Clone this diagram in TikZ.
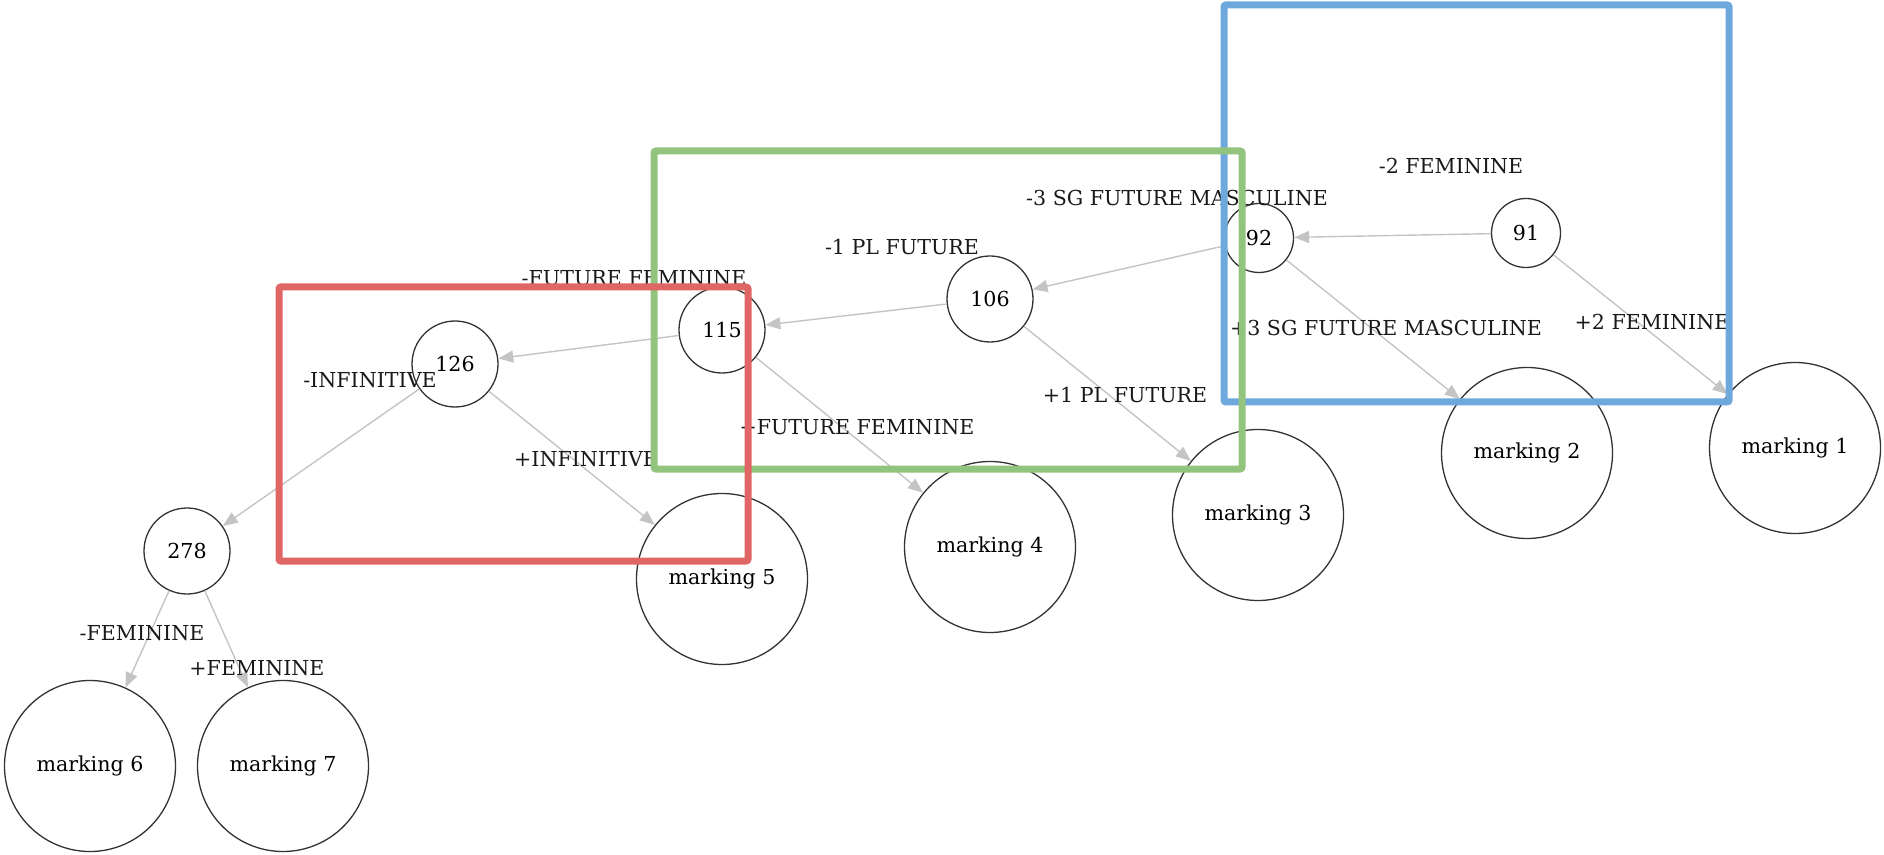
\documentclass[tikz,border=0pt]{standalone}
\usepackage{fontspec}
\setmainfont{DejaVu Serif}
\usetikzlibrary{arrows.meta}
\definecolor{boxblue}{HTML}{6FA8DC}
\definecolor{boxgreen}{HTML}{93C47D}
\definecolor{boxred}{HTML}{E06666}
\definecolor{edgegray}{HTML}{C4C4C4}

\begin{document}
\begin{tikzpicture}[x=0.5pt,y=-0.5pt,
  state/.style={circle,draw=black!80,line width=0.65pt,inner sep=0pt,
    minimum size=43pt,font=\fontsize{10.3}{12}\selectfont},
  smallstate/.style={state,minimum size=34.5pt},
  leaf/.style={state,minimum size=85.5pt},
  lab/.style={font=\fontsize{10.3}{12}\selectfont,text=black!90,inner sep=0pt},
  trans/.style={draw=edgegray,line width=0.7pt,-{Triangle[length=7.5pt,width=6pt]}},
  hl/.style={line width=3.5pt,rounded corners=1pt}]
  \useasboundingbox (0,0) rectangle (1884,855);

  \node[smallstate] (n91) at (1526,233) {91};
  \node[smallstate] (n92) at (1259,238) {92};
  \node[state] (n106) at (990,299) {106};
  \node[state] (n115) at (722,330) {115};
  \node[state] (n126) at (455,364) {126};
  \node[state] (n278) at (187,551) {278};
  \foreach \i/\xm/\ym in {1/1795/448, 2/1527/453, 3/1258/515, 4/990/547,
                          5/722/579, 6/90/766, 7/283/766}{
    \node[leaf] (m\i) at (\xm,\ym) {marking \i};
  }

  \draw[trans] (n91) -- (n92);
  \draw[trans] (n91) -- (m1);
  \draw[trans] (n92) -- (n106);
  \draw[trans] (n92) -- (m2);
  \draw[trans] (n106) -- (n115);
  \draw[trans] (n106) -- (m3);
  \draw[trans] (n115) -- (n126);
  \draw[trans] (n115) -- (m4);
  \draw[trans] (n126) -- (n278);
  \draw[trans] (n126) -- (m5);
  \draw[trans] (n278) -- (m6);
  \draw[trans] (n278) -- (m7);

  \node[lab] (l91a) at (1451,166) {-2 FEMININE};
  \node[lab] (l91b) at (1652,322) {+2 FEMININE};
  \node[lab] (l92a) at (1177,198) {-3 SG FUTURE MASCULINE};
  \node[lab] (l92b) at (1386,328) {+3 SG FUTURE MASCULINE};
  \node[lab] (l106a) at (902,247) {-1 PL FUTURE};
  \node[lab] (l106b) at (1125,395) {+1 PL FUTURE};
  \node[lab] (l115a) at (634,278) {-FUTURE FEMININE};
  \node[lab] (l115b) at (857,427) {+FUTURE FEMININE};
  \node[lab] (l126a) at (370,380) {-INFINITIVE};
  \node[lab] (l126b) at (586,459) {+INFINITIVE};
  \node[lab] (l278a) at (142,633) {-FEMININE};
  \node[lab] (l278b) at (257,668) {+FEMININE};

  \draw[hl,boxblue] (1224,5) rectangle (1729,402);
  \draw[hl,boxgreen] (654,151) rectangle (1242,469);
  \draw[hl,boxred] (279,287) rectangle (748,561);
\end{tikzpicture}
\end{document}
